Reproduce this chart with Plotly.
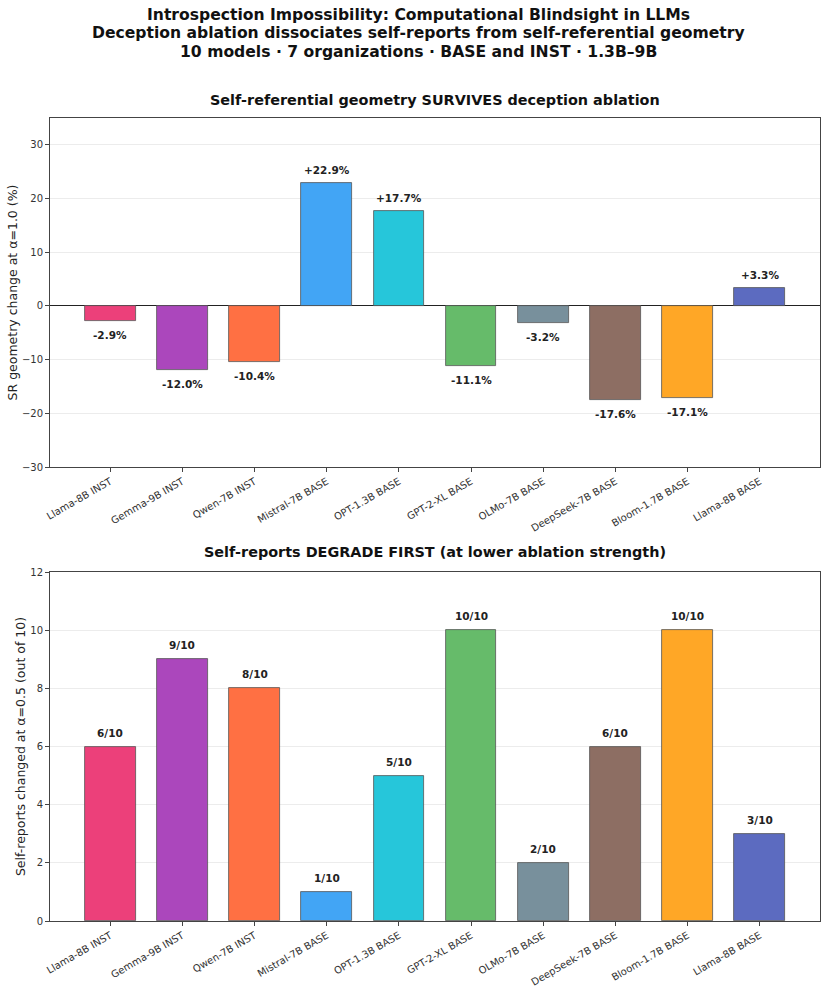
import plotly.graph_objects as go

models = ["Llama-8B INST", "Gemma-9B INST", "Qwen-7B INST", "Mistral-7B BASE", "OPT-1.3B BASE",
          "GPT-2-XL BASE", "OLMo-7B BASE", "DeepSeek-7B BASE", "Bloom-1.7B BASE", "Llama-8B BASE"]
sr_geometry_change = [-2.9, -12.0, -10.4, 22.9, 17.7, -11.1, -3.2, -17.6, -17.1, 3.3]
self_reports_changed = [6, 9, 8, 1, 5, 10, 2, 6, 10, 3]
out_of = 10
colors = ["#EC407A", "#AB47BC", "#FF7043", "#42A5F5", "#26C6DA",
          "#66BB6A", "#78909C", "#8D6E63", "#FFA726", "#5C6BC0"]
title_lines = ["Introspection Impossibility: Computational Blindsight in LLMs",
               "Deception ablation dissociates self-reports from self-referential geometry",
               "10 models · 7 organizations · BASE and INST · 1.3B–9B"]
top_title = "Self-referential geometry SURVIVES deception ablation"
bottom_title = "Self-reports DEGRADE FIRST (at lower ablation strength)"

FONT = "DejaVu Sans"
W, H = 828, 988
ML, MR, MT, MB = 50, 8, 118, 67
PW = W - ML - MR
PH = H - MT - MB

def py(p):
    return (H - MB - p) / PH

def px(p):
    return (p - ML) / PW

xs = list(range(len(models)))
fig = go.Figure()

fig.add_trace(go.Bar(x=xs, y=sr_geometry_change, width=0.7, marker=dict(color=colors, line=dict(color="#555555", width=0.8)),
                     xaxis="x", yaxis="y", showlegend=False, hoverinfo="skip"))
fig.add_trace(go.Bar(x=xs, y=self_reports_changed, width=0.7, marker=dict(color=colors, line=dict(color="#555555", width=0.8)),
                     xaxis="x2", yaxis="y2", showlegend=False, hoverinfo="skip"))

ann = []
for i, v in enumerate(sr_geometry_change):
    ann.append(dict(x=i, y=v, xref="x", yref="y", text=f"<b>{v:+.1f}%</b>", showarrow=False,
                    yshift=13 if v >= 0 else -14, font=dict(family=FONT, size=10.5, color="#222")))
for i, v in enumerate(self_reports_changed):
    ann.append(dict(x=i, y=v, xref="x2", yref="y2", text=f"<b>{v}/{out_of}</b>", showarrow=False,
                    yshift=14, font=dict(family=FONT, size=10.5, color="#222")))

for k, line in enumerate(title_lines):
    ann.append(dict(x=px(418), y=py(15 + 18.3 * k), xref="paper", yref="paper", xanchor="center", yanchor="middle",
                    showarrow=False, text=f"<b>{line}</b>", font=dict(family=FONT, size=15.6, color="#111")))

ann.append(dict(x=0.5, y=py(100), xref="paper", yref="paper", xanchor="center", yanchor="middle", showarrow=False,
                text=f"<b>{top_title}</b>", font=dict(family=FONT, size=14.4, color="#111")))
ann.append(dict(x=0.5, y=py(552), xref="paper", yref="paper", xanchor="center", yanchor="middle", showarrow=False,
                text=f"<b>{bottom_title}</b>", font=dict(family=FONT, size=14.4, color="#111")))

axis_common = dict(showline=True, linecolor="#444", linewidth=1, mirror=True, ticks="outside", automargin=False,
                   ticklen=4, tickcolor="#444", tickfont=dict(family=FONT, size=10, color="#333"))
xcommon = dict(axis_common, tickmode="array", tickvals=xs, ticktext=models, tickangle=-30,
               range=[-0.835, len(models) - 1 + 0.835], showgrid=False, zeroline=False)

fig.update_layout(
    width=W, height=H, margin=dict(l=ML, r=MR, t=MT, b=MB),
    paper_bgcolor="white", plot_bgcolor="white", bargap=0,
    font=dict(family=FONT, color="#222"),
    xaxis=dict(xcommon, domain=[0, 1], anchor="y"),
    xaxis2=dict(xcommon, domain=[0, 1], anchor="y2"),
    yaxis=dict(axis_common, domain=[py(467), 1], anchor="x", range=[-30, 35], tickvals=[-30, -20, -10, 0, 10, 20, 30],
               showgrid=True, gridcolor="#ececec", gridwidth=1, zeroline=True, zerolinecolor="#222", zerolinewidth=1,
               title=dict(text="SR geometry change at α=1.0 (%)", font=dict(family=FONT, size=12.5, color="#222"), standoff=1)),
    yaxis2=dict(axis_common, domain=[0, py(572)], anchor="x2", range=[0, 12], tickvals=[0, 2, 4, 6, 8, 10, 12],
                showgrid=True, gridcolor="#ececec", gridwidth=1, zeroline=False,
                title=dict(text="Self-reports changed at α=0.5 (out of 10)", font=dict(family=FONT, size=12.5, color="#222"), standoff=1)),
    annotations=ann,
)

fig.write_html("out.html", config={"displayModeBar": False},
               post_script="document.body.style.margin='0';document.body.style.overflow='hidden';")
